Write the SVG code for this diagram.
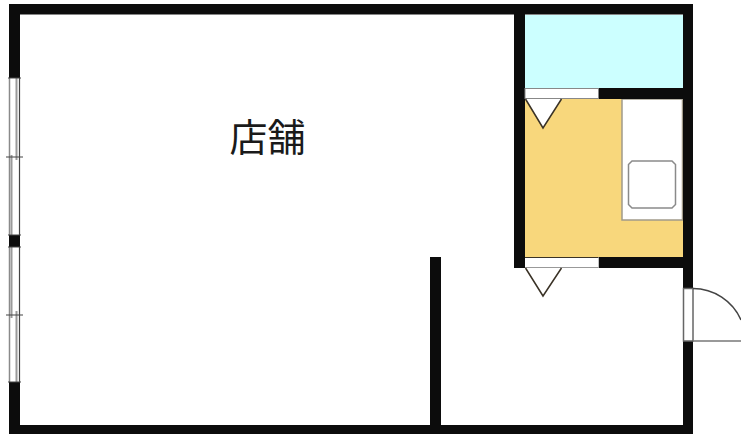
<svg xmlns="http://www.w3.org/2000/svg" width="741" height="434" viewBox="0 0 741 434">
<style>
.wall{fill:#0c0c0c}
.gray{fill:none;stroke:#8a8a8a;stroke-width:1.5}
.glass{fill:none;stroke:#9a9a9a;stroke-width:2}
.dark{fill:none;stroke:#444;stroke-width:1.2}
.door{fill:#fff;stroke:#3a3226;stroke-width:1.5}
.label{font-family:"Noto Sans CJK JP","Liberation Sans",sans-serif;font-size:38px;fill:#1a1a1a}
</style>
<rect width="741" height="434" fill="#fff"/>
<g id="rooms">
<rect x="525" y="15" width="158" height="73" fill="#ccffff"/>
<rect x="525" y="99" width="158" height="158" fill="#f8d77c"/>
<rect x="622" y="99" width="60.500" height="121" fill="#fff" stroke="#a09a8a" stroke-width="1.500"/>
<path d="M632 161H672L675.500 164.500V204.500L672 208H632L628.500 204.500V164.500Z" fill="#fff" stroke="#8a8a8a" stroke-width="1.500"/>
</g>
<g id="walls">
<rect class="wall" x="9" y="4" width="684" height="10.500"/>
<rect class="wall" x="9" y="4" width="11" height="74"/>
<rect class="wall" x="9" y="235" width="11" height="12"/>
<rect class="wall" x="9" y="382" width="11" height="52"/>
<rect class="wall" x="9" y="425" width="684" height="9"/>
<rect class="wall" x="683" y="4" width="10" height="284.500"/>
<rect class="wall" x="683" y="341" width="10" height="93"/>
<rect class="wall" x="514" y="4" width="11" height="264"/>
<rect class="wall" x="598.500" y="88" width="94.500" height="11"/>
<rect class="wall" x="598.500" y="257" width="94.500" height="11"/>
<rect class="wall" x="430" y="257" width="11" height="170"/>
</g>
<g id="windows">
<path class="gray" d="M9.500 78V157M9.500 157V235M9.500 247V382"/>
<path class="dark" d="M19.500 78V235M19.500 247V382"/>
<path class="glass" d="M16.500 78V160M11.500 155V235M11.500 247V318M16.500 311V382"/>
<path class="dark" d="M8 78H21M6 157H23M8 235H21M8 247H21M6 315H23M8 382H21"/>
</g>
<g id="door-storage">
<rect x="525" y="88.500" width="73.500" height="10" fill="#fff" stroke="#888" stroke-width="1"/>
<path class="door" d="M525.500 99L543 128L561.500 99"/>
</g>
<g id="door-kitchen">
<rect x="525" y="257" width="73.500" height="11" fill="#fff"/>
<path d="M525 257.500H598.500" fill="none" stroke="#3a3226" stroke-width="1.200"/>
<path d="M525 267.500H598.500" fill="none" stroke="#999" stroke-width="1"/>
<path class="door" d="M525.500 268L543 296L561.500 268" fill="none"/>
</g>
<g id="door-entrance">
<rect x="683.500" y="288.500" width="9.500" height="52.500" fill="#fff" stroke="#666" stroke-width="1.500"/>
<path d="M693 288.500A52.500 52.500 0 0 1 741 320" fill="none" stroke="#444" stroke-width="1.500"/>
<path d="M693 341H741" fill="none" stroke="#777" stroke-width="1.500"/>
</g>
<g id="label-shop">
<text class="label" x="267.500" y="151" text-anchor="middle">店舗</text>
</g>
</svg>
